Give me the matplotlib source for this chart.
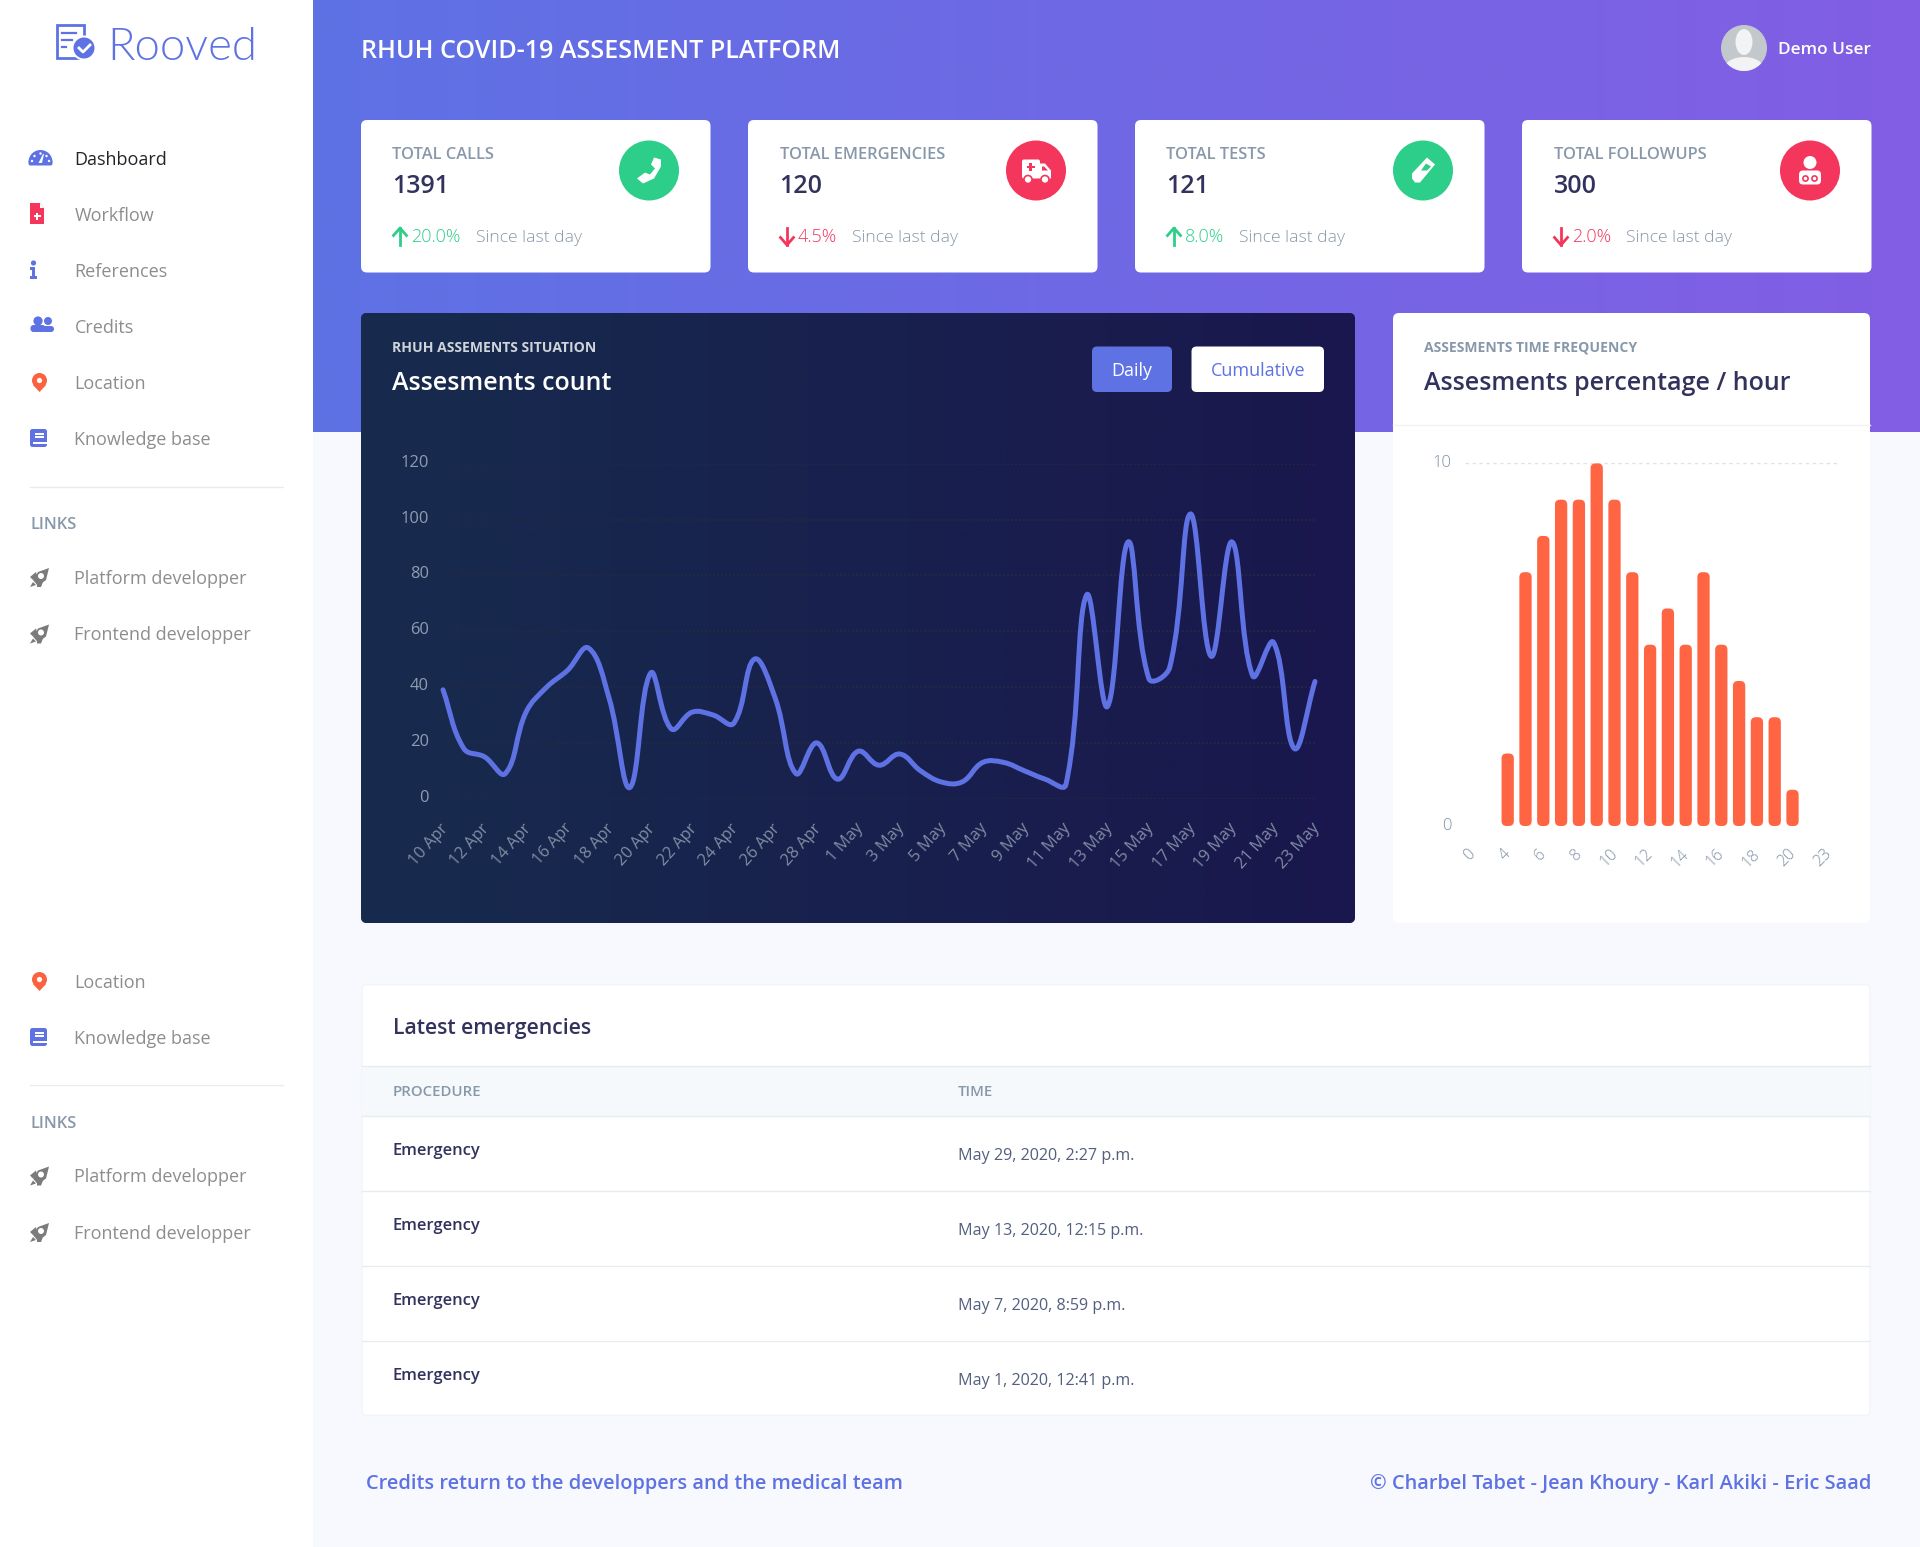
#!/usr/bin/env python3
"""Rooved / RHUH assessment dashboard, redrawn with matplotlib."""

import matplotlib

matplotlib.use("Agg")
import matplotlib.pyplot as plt
import numpy as np
from matplotlib.patches import Circle, Ellipse, FancyBboxPatch, PathPatch, Polygon, Rectangle, Wedge
from matplotlib.path import Path
from matplotlib.transforms import ScaledTranslation

W, H = 1920, 1547

plt.rcParams["font.family"] = ["Open Sans", "DejaVu Sans"]

BLUE = "#5e72e4"
PURPLE = "#825ee4"
GREEN = "#2dce89"
RED = "#f5365c"
ORANGE = "#fb6340"
DARK = "#32325d"
GRAY = "#8898aa"
NAV = "#8d8d8d"
PAGE = "#f8f9fe"
LINE = "#e9ecef"

# stat cards
CARD_TITLES = ["TOTAL CALLS", "TOTAL EMERGENCIES", "TOTAL TESTS", "TOTAL FOLLOWUPS"]
CARD_VALUES = ["1391", "120", "121", "300"]
CARD_CHANGES = ["20.0%", "4.5%", "8.0%", "2.0%"]
CARD_UP = [True, False, True, False]

# daily assessments
DAILY_COUNTS = [39, 18, 15, 9, 31, 40, 46, 54, 36, 4, 45, 25, 31, 30, 27, 50, 36, 9, 20, 7, 17,
                12, 16, 10, 6, 6, 13, 13, 10, 7, 5, 73, 33, 92, 43, 47, 102, 51, 92, 44, 56, 18, 42]
DATE_LABELS = ["10 Apr", "12 Apr", "14 Apr", "16 Apr", "18 Apr", "20 Apr", "22 Apr", "24 Apr",
               "26 Apr", "28 Apr", "1 May", "3 May", "5 May", "7 May", "9 May", "11 May",
               "13 May", "15 May", "17 May", "19 May", "21 May", "23 May"]
COUNT_TICKS = [0, 20, 40, 60, 80, 100, 120]

# hourly percentage
HOUR_VALUES = [0, 0, 2, 7, 8, 9, 9, 10, 9, 7, 5, 6, 5, 7, 5, 4, 3, 3, 1, 0, 0]
HOUR_LABELS = ["0", "4", "6", "8", "10", "12", "14", "16", "18", "20", "23"]

# table
EMERGENCY_TIMES = ["May 29, 2020, 2:27 p.m.", "May 13, 2020, 12:15 p.m.",
                   "May 7, 2020, 8:59 p.m.", "May 1, 2020, 12:41 p.m."]

NAV_TOP = ["Dashboard", "Workflow", "References", "Credits", "Location", "Knowledge base"]
NAV_REPEAT = ["Location", "Knowledge base"]
NAV_LINKS = ["Platform developper", "Frontend developper"]


def px(size):
    return size * 0.72


def label(ax, x, y, s, size, color, weight="normal", ha="left", **kw):
    # Open Sans sits about 2px high with va=center
    ax.text(x, y + 2, s, fontsize=px(size), color=color, fontweight=weight, ha=ha, va="center", **kw)


def round_box(ax, x0, y0, x1, y1, color, radius=6, **kw):
    box = FancyBboxPatch((x0, y0), x1 - x0, y1 - y0, boxstyle=f"round,pad=0,rounding_size={radius}",
                         fc=color, ec=kw.pop("ec", "none"), lw=kw.pop("lw", 0), **kw)
    ax.add_patch(box)
    return box


def gradient(ax, x0, y0, x1, y1, left, right, clip=None):
    rgb_l = np.array(matplotlib.colors.to_rgb(left))
    rgb_r = np.array(matplotlib.colors.to_rgb(right))
    t = np.linspace(0, 1, 256)[None, :, None]
    img = ax.imshow(rgb_l + (rgb_r - rgb_l) * t, extent=[x0, x1, y1, y0], aspect="auto", zorder=1,
                    interpolation="bilinear")
    if clip is not None:
        img.set_clip_path(clip)
    return img


def nudge_labels(fig, labels, dx, dy):
    # shift tick labels by pixels (dy positive is up)
    shift = ScaledTranslation(dx / 100, dy / 100, fig.dpi_scale_trans)
    for text in labels:
        text.set_transform(text.get_transform() + shift)


def polygon(ax, pts, color, x=0, y=0, z=4):
    ax.add_patch(Polygon([(x + a, y + b) for a, b in pts], closed=True, fc=color, ec="none", zorder=z))


# --- sidebar icons ---
def icon_gauge(ax, x, y):
    ax.add_patch(Wedge((x + 10.5, y + 4), 12, 180, 360, fc=BLUE, ec="none", zorder=4))
    ax.add_patch(FancyBboxPatch((x - 1.5, y + 2), 24, 5.5, fc=BLUE, ec="none", zorder=4,
                                boxstyle="round,pad=0,rounding_size=2"))
    for dx, dy in [(2, 3), (4.5, -2), (10.5, -4.5), (16.5, -2), (19, 3)]:
        ax.add_patch(Circle((x + dx, y + dy), 1.2, fc="white", ec="none", zorder=5))
    polygon(ax, [(8.5, 5), (12, 5), (14, -4), (13, -4)], "white", x, y, 5)


def icon_file(ax, x, y):
    polygon(ax, [(0, -11), (10, -11), (14, -6), (14, 10), (0, 10)], RED, x, y)
    polygon(ax, [(10, -11), (14, -6), (10, -6)], "white", x, y, 5)
    ax.add_patch(Rectangle((x + 3.5, y + 1), 7, 2, fc="white", zorder=5))
    ax.add_patch(Rectangle((x + 6, y - 1.5), 2, 7, fc="white", zorder=5))


def icon_info(ax, x, y):
    ax.add_patch(Circle((x + 3.5, y - 7), 2.6, fc=BLUE, ec="none", zorder=4))
    polygon(ax, [(0, -3), (5, -3), (5, 6), (7, 6), (7, 9), (0, 9), (0, 6), (2, 6), (2, 0), (0, 0)], BLUE, x, y)


def icon_users(ax, x, y):
    for cx, r, w, top in [(8, 4.6, 7.5, -1), (18, 4, 6, 0)]:
        ax.add_patch(Circle((x + cx, y - 5), r, fc=BLUE, ec="none", zorder=4))
        ax.add_patch(FancyBboxPatch((x + cx - w, y + top), 2 * w, 6 - top, fc=BLUE, ec="none", zorder=4,
                                    boxstyle="round,pad=0,rounding_size=3"))


def icon_pin(ax, x, y, color=ORANGE):
    ax.add_patch(Circle((x + 9.5, y - 1.5), 7.5, fc=color, ec="none", zorder=4))
    polygon(ax, [(3, 3), (16, 3), (9.5, 10)], color, x, y)
    ax.add_patch(Circle((x + 9.5, y - 1.5), 2.6, fc="white", ec="none", zorder=5))


def icon_book(ax, x, y):
    round_box(ax, x, y - 9, x + 17, y + 9, BLUE, radius=2.5, zorder=4)
    ax.add_patch(Rectangle((x + 3, y + 4), 14, 2, fc="white", zorder=5))
    ax.add_patch(Rectangle((x + 5, y - 5), 9, 1.5, fc="white", zorder=5))
    ax.add_patch(Rectangle((x + 5, y - 2), 9, 1.5, fc="white", zorder=5))


def icon_rocket(ax, x, y):
    polygon(ax, [(3, 3), (8, -5), (19, -9), (16, 3), (8, 9)], "#7b7b7b", x, y)
    polygon(ax, [(0, 0), (6, -5), (7, -1), (3, 3)], "#7b7b7b", x, y)
    polygon(ax, [(7, 7), (13, 5), (11, 10), (7, 10)], "#7b7b7b", x, y)
    polygon(ax, [(0, 10), (3, 5), (6, 8)], "#7b7b7b", x, y)
    ax.add_patch(Circle((x + 11, y - 1), 3, fc="white", ec="none", zorder=5))


# --- stat card icons, drawn on a 60px disc ---
def card_phone(ax, x, y):
    verts = [(-12, 8), (-6, 13), (5, 8), (12, -4), (12, -11), (5, -13), (2, -6), (6, -2), (1, 4), (-4, 2)]
    polygon(ax, verts, "white", x, y, 6)


def card_ambulance(ax, x, y):
    round_box(ax, x - 14, y - 11, x + 4, y + 8, "white", radius=2, zorder=6)
    polygon(ax, [(3, -7), (9, -7), (15, 0), (15, 8), (3, 8)], "white", x, y, 6)
    polygon(ax, [(6, -4), (8, -4), (12, 0), (6, 0)], RED, x, y, 7)
    ax.add_patch(Rectangle((x - 9.5, y - 5), 8, 2.6, fc=RED, zorder=7))
    ax.add_patch(Rectangle((x - 6.8, y - 8), 2.6, 8, fc=RED, zorder=7))
    for dx in (-8, 9):
        ax.add_patch(Circle((x + dx, y + 9), 4, fc="white", ec=RED, lw=1.2, zorder=8))


def card_tube(ax, x, y):
    polygon(ax, [(4, -13), (12, -6), (-3, 12), (-8, 12), (-11, 8), (-11, 3)], "white", x, y, 6)
    polygon(ax, [(3, -7), (8, -4), (4, 0), (-2, 0)], GREEN, x, y, 7)


def card_doctor(ax, x, y):
    ax.add_patch(Circle((x, y - 8), 6.5, fc="white", ec="none", zorder=6))
    round_box(ax, x - 11, y, x + 11, y + 14, "white", radius=4, zorder=6)
    ax.add_patch(Circle((x - 4.5, y + 8), 2.6, fc="none", ec=RED, lw=1.2, zorder=7))
    ax.add_patch(Circle((x + 4.5, y + 8), 2.6, fc="none", ec=RED, lw=1.2, zorder=7))


CARD_ICONS = [card_phone, card_ambulance, card_tube, card_doctor]


def px_axes(fig, left, top, right, bottom):
    ax = fig.add_axes([left / W, 1 - bottom / H, (right - left) / W, (bottom - top) / H])
    ax.patch.set_alpha(0)
    for spine in ax.spines.values():
        spine.set_visible(False)
    return ax


def spline_path(values, sx, sy, tension=0.4):
    # same control points as a chart.js line with tension 0.4, found in pixel space
    xs = np.arange(len(values), dtype=float)
    ys = np.array(values, dtype=float)
    n = len(values)
    before = [None] * n
    after = [None] * n
    for i in range(n):
        prev_i, next_i = max(i - 1, 0), min(i + 1, n - 1)
        d01 = np.hypot((xs[i] - xs[prev_i]) * sx, (ys[i] - ys[prev_i]) * sy)
        d12 = np.hypot((xs[next_i] - xs[i]) * sx, (ys[next_i] - ys[i]) * sy)
        total = (d01 + d12) or 1.0
        fa, fb = tension * d01 / total, tension * d12 / total
        dx, dy = xs[next_i] - xs[prev_i], ys[next_i] - ys[prev_i]
        before[i] = (xs[i] - fa * dx, ys[i] - fa * dy)
        after[i] = (xs[i] + fb * dx, ys[i] + fb * dy)
    verts = [(xs[0], ys[0])]
    codes = [Path.MOVETO]
    for i in range(1, n):
        verts += [after[i - 1], before[i], (xs[i], ys[i])]
        codes += [Path.CURVE4] * 3
    return Path(verts, codes)


def draw_sidebar(ax):
    ax.add_patch(Rectangle((0, 0), 313, H, fc="white", ec="none", zorder=2))

    # logo
    ax.add_patch(Rectangle((57, 25), 27, 33, fc="white", ec=BLUE, lw=2, zorder=3))
    for y0, x1 in [(33, 76), (40, 72), (47, 66)]:
        ax.plot([62, x1], [y0, y0], color=BLUE, lw=1.6, zorder=4)
    ax.add_patch(Circle((84, 48), 12.5, fc="white", ec="none", zorder=4))
    ax.add_patch(Circle((84, 48), 10.5, fc=BLUE, ec="none", zorder=5))
    ax.plot([79, 83, 90], [48, 52, 45], color="white", lw=2, zorder=6)
    ax.text(107.5, 47, "Rooved", fontsize=px(45.5), color=BLUE, family="Lato", fontweight=300,
            ha="left", va="center", zorder=4)

    icons = [icon_gauge, icon_file, icon_info, icon_users, icon_pin, icon_book]
    rows = [158, 214, 270, 326, 382, 438]
    for name, y, icon in zip(NAV_TOP, rows, icons):
        color = "#212529" if name == "Dashboard" else NAV
        label(ax, 74.5, y, name, 18, color, zorder=4)
        icon(ax, 30, y)

    for name, y, icon in zip(NAV_REPEAT, [981, 1037], [icon_pin, icon_book]):
        label(ax, 74.5, y, name, 18, NAV, zorder=4)
        icon(ax, 30, y)

    for sep, links, row in [(486.5, 523, (577, 633.5)), (1085, 1122, (1175.5, 1232))]:
        ax.plot([30, 283], [sep, sep], color=LINE, lw=1, zorder=4)
        label(ax, 30, links, "LINKS", 16.5, GRAY, weight="semibold", zorder=4)
        for name, y in zip(NAV_LINKS, row):
            label(ax, 74.5, y, name, 18, NAV, zorder=4)
            icon_rocket(ax, 30, y)


def draw_header(ax):
    gradient(ax, 313, 0, W, 432, BLUE, PURPLE)
    label(ax, 361, 49, "RHUH COVID-19 ASSESMENT PLATFORM", 25.1, "white", weight="semibold", zorder=4)
    label(ax, 1778, 48.5, "Demo User", 17.3, "white", weight="semibold", zorder=4)

    disc = Circle((1744, 48), 23, fc="#c3c8cd", ec="none", zorder=4)
    ax.add_patch(disc)
    head = Ellipse((1744, 42), 17, 26, fc="#f1f3f4", ec="none", zorder=5)
    body = Ellipse((1744, 69), 40, 24, fc="#f1f3f4", ec="none", zorder=5)
    ax.add_patch(head)
    ax.add_patch(body)
    body.set_clip_path(disc)


def draw_cards(ax):
    lefts = [361, 748, 1135, 1522]
    since_x = [114.5, 104, 104, 104]
    for i, left in enumerate(lefts):
        right = left + 349.5
        round_box(ax, left, 120, right, 272.5, "white", zorder=3)
        label(ax, left + 31.5, 153, CARD_TITLES[i], 16.5, GRAY, weight="semibold", zorder=4)
        label(ax, left + 31.5, 184.5, CARD_VALUES[i], 25, DARK, weight="semibold", zorder=4)

        color = GREEN if CARD_UP[i] else RED
        ax_x = left + 39
        tip, tail, wing = (228, 245, 235.5) if CARD_UP[i] else (245, 228, 237.5)
        ax.plot([ax_x, ax_x], [tip, tail], color=color, lw=2, zorder=4)
        ax.plot([ax_x - 6.5, ax_x, ax_x + 6.5], [wing, tip, wing], color=color, lw=2, zorder=4)
        label(ax, left + 50, 235.5, CARD_CHANGES[i], 18, color, weight="light", zorder=4)
        label(ax, left + since_x[i], 235.5, "Since last day", 17.5, GRAY, weight="light", zorder=4)

        cx = left + 288
        disc_color = GREEN if CARD_UP[i] else RED
        ax.add_patch(Circle((cx, 170.5), 30, fc=disc_color, ec="none", zorder=5))
        CARD_ICONS[i](ax, cx, 170.5)


def draw_line_card(fig, ax):
    clip = round_box(ax, 361, 313, 1355, 923, "#172b4d", zorder=1)
    gradient(ax, 361, 313, 1355, 923, "#172b4d", "#1a174d", clip=clip)

    label(ax, 392.5, 346, "RHUH ASSEMENTS SITUATION", 14, "#ced4da", weight="bold", zorder=4)
    label(ax, 392.5, 381, "Assesments count", 25, "white", weight="semibold", zorder=4)

    round_box(ax, 1092, 346.5, 1172, 392, BLUE, radius=5, zorder=4)
    label(ax, 1132, 368.5, "Daily", 18, "white", ha="center", zorder=5)
    round_box(ax, 1191.5, 346.5, 1324, 392, "white", radius=5, zorder=4)
    label(ax, 1258, 368.5, "Cumulative", 18, BLUE, ha="center", zorder=5)

    chart = px_axes(fig, 443, 463.7, 1315, 798.7)
    chart.set_xlim(0, 42)
    chart.set_ylim(0, 120)
    chart.set_yticks(COUNT_TICKS)
    chart.set_yticklabels([str(v) for v in COUNT_TICKS], fontsize=px(16.5), color="#8f9db2")
    chart.tick_params(axis="y", length=0, pad=10)
    chart.set_xticks(np.arange(0, len(DAILY_COUNTS), 2))
    chart.set_xticklabels(DATE_LABELS, fontsize=px(16.5), color="#7f8ca3", rotation=48,
                          ha="right", va="top", rotation_mode="anchor")
    chart.tick_params(axis="x", length=0, pad=15)
    chart.grid(axis="y", color="#232a42", lw=1.3, ls=(0, (1, 1.2)))
    chart.set_axisbelow(True)
    nudge_labels(fig, chart.get_yticklabels(), 0, 3)
    nudge_labels(fig, chart.get_xticklabels(), -3.5, -1)

    path = spline_path(DAILY_COUNTS, 872 / 42, 335 / 120)
    chart.add_patch(PathPatch(path, fc="none", ec=BLUE, lw=px(5), capstyle="round", joinstyle="round",
                              clip_on=False, zorder=3))


def draw_bar_card(fig, ax):
    round_box(ax, 1393, 313, 1870, 923, "white", zorder=3)
    ax.plot([1393, 1870], [425, 425], color="#f0f2f5", lw=1, zorder=4)
    label(ax, 1424, 346, "ASSESMENTS TIME FREQUENCY", 14, GRAY, weight="bold", zorder=4)
    label(ax, 1424, 381, "Assesments percentage / hour", 25, DARK, weight="semibold", zorder=4)

    x0, slot = 1472.1, 17.8
    left, right = x0 - 0.4 * slot, x0 + 20.5 * slot
    chart = px_axes(fig, left, 463.4, right, 826)
    chart.set_xlim(-0.4, 20.5)
    chart.set_ylim(0, 10)
    chart.set_yticks([0, 10])
    chart.set_yticklabels(["0", "10"], fontsize=px(16.5), color="#7f8fa3", fontweight="light")
    chart.tick_params(axis="y", length=0, pad=10)
    chart.set_xticks(np.arange(0, len(HOUR_VALUES), 2))
    chart.set_xticklabels(HOUR_LABELS, fontsize=px(16), color="#7f8fa3", fontweight="light", rotation=45,
                          ha="right", va="top", rotation_mode="anchor")
    chart.tick_params(axis="x", length=0, pad=13)
    chart.axhline(10, color="#dee2e6", lw=1, ls=(0, (2.5, 2.5)), zorder=1)
    nudge_labels(fig, chart.get_yticklabels(), 0, 2.5)
    nudge_labels(fig, chart.get_xticklabels(), -5, -2)

    y_unit = 36.26
    for i, value in enumerate(HOUR_VALUES):
        if value == 0:
            continue
        bar = FancyBboxPatch((i - 6.15 / slot, 0), 12.3 / slot, value,
                             boxstyle=f"round,pad=0,rounding_size={5 / slot}",
                             mutation_aspect=slot / y_unit, fc="#ff6542", ec="none", clip_on=False, zorder=3)
        chart.add_patch(bar)


def draw_table(ax):
    round_box(ax, 362, 984.5, 1870, 1415.5, "white", radius=5, ec="#f3f4fa", lw=1, zorder=3)
    label(ax, 393, 1026.5, "Latest emergencies", 21.3, DARK, weight="semibold", zorder=4)

    ax.add_patch(Rectangle((362, 1066), 1508, 50, fc="#f6f9fc", ec="none", zorder=4))
    for y in [1066, 1116, 1191, 1266, 1341]:
        ax.plot([362, 1870], [y, y], color=LINE, lw=1, zorder=5)
    label(ax, 393, 1090.5, "PROCEDURE", 15, GRAY, weight="semibold", zorder=5)
    label(ax, 957.5, 1090.5, "TIME", 15, GRAY, weight="semibold", zorder=5)

    for i, when in enumerate(EMERGENCY_TIMES):
        label(ax, 393, 1149 + 75 * i, "Emergency", 16.5, DARK, weight="semibold", zorder=5)
        label(ax, 957.5, 1154 + 75 * i, when, 16.1, "#525f7f", zorder=5)


def draw_footer(ax):
    label(ax, 366, 1481.5, "Credits return to the developpers and the medical team", 20, BLUE,
          weight="semibold", zorder=4)
    label(ax, 1871, 1481.5, "\u00a9 Charbel Tabet - Jean Khoury - Karl Akiki - Eric Saad", 20, BLUE,
          weight="semibold", ha="right", zorder=4)


def main():
    fig = plt.figure(figsize=(W / 100, H / 100), dpi=100, facecolor=PAGE)
    ax = fig.add_axes([0, 0, 1, 1])
    ax.set_xlim(0, W)
    ax.set_ylim(H, 0)
    ax.axis("off")

    draw_header(ax)
    draw_sidebar(ax)
    draw_cards(ax)
    draw_line_card(fig, ax)
    draw_bar_card(fig, ax)
    draw_table(ax)
    draw_footer(ax)

    ax.set_xlim(0, W)
    ax.set_ylim(H, 0)
    fig.savefig("out.png", dpi=100, facecolor=PAGE)


if __name__ == "__main__":
    main()
